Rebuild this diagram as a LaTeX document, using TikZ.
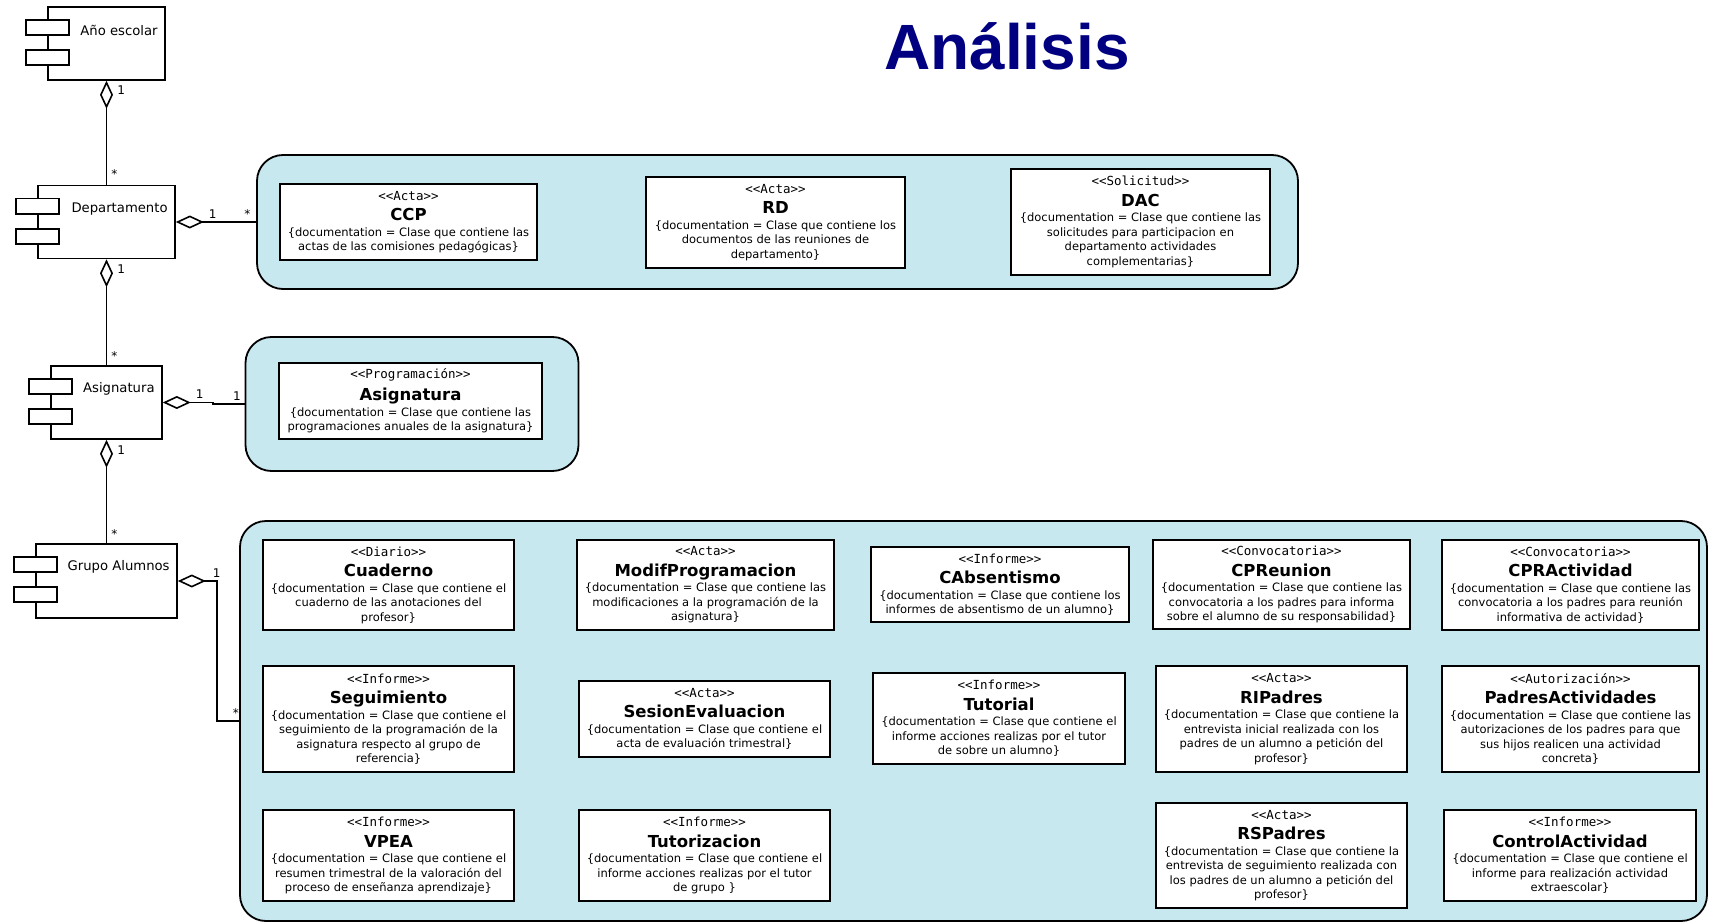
\documentclass[tikz,border=0pt]{standalone}
\usepackage{fontspec}
\setmainfont{DejaVu Sans}
\newfontfamily\monofam{DejaVu Sans Mono}
\newfontfamily\headfam{Liberation Sans}
\usepackage{tikz}
\usetikzlibrary{arrows.meta,positioning,calc}

\definecolor{pkgblue}{RGB}{200,232,240}
\definecolor{titleblue}{RGB}{0,0,128}

\newcommand{\stfont}{\monofam\fontsize{12.5}{14}\selectfont}
\newcommand{\nmfont}{\bfseries\fontsize{16.5}{19}\selectfont}
\newcommand{\docfont}{\fontsize{11.5}{14.5}\selectfont}
\newcommand{\umlclass}[3]{{\stfont #1}\\[6pt]{\nmfont #2}\\[1pt]#3}
\newcommand{\compicon}[1]{%
	\draw[line width=1.6pt, fill=white] ($(#1.north west)+(-21,14)$) rectangle ++(43,15);
	\draw[line width=1.6pt, fill=white] ($(#1.north west)+(-21,44)$) rectangle ++(43,15);}

\tikzset{
	comp/.style={draw, line width=1.6pt, fill=white, inner sep=0pt},
	complabel/.style={anchor=east, xshift=-8pt, yshift=-24pt, inner sep=0pt, font=\fontsize{13.2}{15}\selectfont},
	pkg/.style={draw, line width=1.8pt, fill=pkgblue, rounded corners=26pt, inner sep=0pt},
	cls/.style={draw, line width=1.6pt, fill=white, align=center, inner sep=2pt, font=\docfont},
	agg/.style={line width=1.7pt, {Diamond[open, length=28pt, width=13pt, line width=1.6pt]}-},
	mult/.style={inner sep=1pt, font=\fontsize{12}{14}\selectfont},
}

\begin{document}
\begin{tikzpicture}[x=1pt, y=-1pt]
	\useasboundingbox (0,0) rectangle (1709,923);
	\node[anchor=base, text=titleblue, font=\headfam\bfseries\fontsize{64}{70}\selectfont] (title) at (1007,70) {Análisis};

	\node[comp, minimum width=117pt, minimum height=73pt, label={[complabel]north east:Año escolar}] (anio) at (106.5,43.5) {};
	\node[comp, minimum width=137pt, minimum height=73pt, label={[complabel]north east:Departamento}] (dep) at (106.5,222) {};
	\node[comp, minimum width=111pt, minimum height=73pt, label={[complabel]north east:Asignatura}] (asig) at (106.5,402.5) {};
	\node[comp, minimum width=141pt, minimum height=74pt, label={[complabel]north east:Grupo Alumnos}] (grupo) at (106.5,581) {};
	\compicon{anio}
	\compicon{dep}
	\compicon{asig}
	\compicon{grupo}

	\node[pkg, minimum width=1041pt, minimum height=134pt] (pkgdep) at (777.5,222) {};
	\node[pkg, minimum width=333pt, minimum height=134pt] (pkgasig) at (412,404) {};
	\node[pkg, minimum width=1467pt, minimum height=400pt] (pkggrupo) at (973.5,721) {};

	\draw[agg] (anio.south) -- node[mult, pos=0.09, right=9pt] {1} node[mult, pos=0.9, right=3pt] {*} (dep.north);
	\draw[agg] (dep.south) -- node[mult, pos=0.09, right=9pt] {1} node[mult, pos=0.91, right=3pt] {*} (asig.north);
	\draw[agg] (asig.south) -- node[mult, pos=0.1, right=9pt] {1} node[mult, pos=0.91, right=3pt] {*} (grupo.north);
	\draw[agg] (dep.east) -- node[mult, pos=0.46, above=2pt] {1} node[mult, pos=0.89, above=2pt] {*} (pkgdep.west);
	\draw[agg] (asig.east) -- node[mult, pos=0.74, above=2pt] {1} ++(50,0) |- node[mult, pos=0.88, above=2pt] {1} (pkgasig.west);
	\draw[agg] (grupo.east) -- node[mult, pos=1, above=2pt] {1} ++(39,0) |- node[mult, pos=0.93, above=2pt] {*} (pkggrupo.west);

	\node[cls, minimum width=257pt, minimum height=76pt] (ccp) at (408.5,222) {\umlclass{<<Acta>>}{CCP}{\{documentation = Clase que contiene las\\actas de las comisiones pedagógicas\}}};
	\node[cls, minimum width=259pt, minimum height=91pt] (rd) at (775.5,222.5) {\umlclass{<<Acta>>}{RD}{\{documentation = Clase que contiene los\\documentos de las reuniones de\\departamento\}}};
	\node[cls, minimum width=259pt, minimum height=106pt] (dac) at (1140.5,222) {\umlclass{<<Solicitud>>}{DAC}{\{documentation = Clase que contiene las\\solicitudes para participacion en\\departamento actividades\\complementarias\}}};

	\node[cls, minimum width=263pt, minimum height=76pt] (prog) at (410.5,401) {\umlclass{<<Programación>>}{Asignatura}{\{documentation = Clase que contiene las\\programaciones anuales de la asignatura\}}};

	\node[cls, minimum width=251pt, minimum height=90pt] (cuaderno) at (388.5,585) {\umlclass{<<Diario>>}{Cuaderno}{\{documentation = Clase que contiene el\\cuaderno de las anotaciones del\\profesor\}}};
	\node[cls, minimum width=257pt, minimum height=90pt] (modif) at (705.5,585) {\umlclass{<<Acta>>}{ModifProgramacion}{\{documentation = Clase que contiene las\\modificaciones a la programación de la\\asignatura\}}};
	\node[cls, minimum width=258pt, minimum height=75pt] (cabs) at (1000,584.5) {\umlclass{<<Informe>>}{CAbsentismo}{\{documentation = Clase que contiene los\\informes de absentismo de un alumno\}}};
	\node[cls, minimum width=257pt, minimum height=89pt] (cpreunion) at (1281.5,584.5) {\umlclass{<<Convocatoria>>}{CPReunion}{\{documentation = Clase que contiene las\\convocatoria a los padres para informa\\sobre el alumno de su responsabilidad\}}};
	\node[cls, minimum width=257pt, minimum height=90pt] (cpract) at (1570.5,585) {\umlclass{<<Convocatoria>>}{CPRActividad}{\{documentation = Clase que contiene las\\convocatoria a los padres para reunión\\informativa de actividad\}}};

	\node[cls, minimum width=251pt, minimum height=106pt] (seguim) at (388.5,719) {\umlclass{<<Informe>>}{Seguimiento}{\{documentation = Clase que contiene el\\seguimiento de la programación de la\\asignatura respecto al grupo de\\referencia\}}};
	\node[cls, minimum width=251pt, minimum height=76pt] (sesion) at (704.5,719) {\umlclass{<<Acta>>}{SesionEvaluacion}{\{documentation = Clase que contiene el\\acta de evaluación trimestral\}}};
	\node[cls, minimum width=252pt, minimum height=91pt] (tutorial) at (999,718.5) {\umlclass{<<Informe>>}{Tutorial}{\{documentation = Clase que contiene el\\informe acciones realizas por el tutor\\de sobre un alumno\}}};
	\node[cls, minimum width=251pt, minimum height=106pt] (ripadres) at (1281.5,719) {\umlclass{<<Acta>>}{RIPadres}{\{documentation = Clase que contiene la\\entrevista inicial realizada con los\\padres de un alumno a petición del\\profesor\}}};
	\node[cls, minimum width=257pt, minimum height=106pt] (padresact) at (1570.5,719) {\umlclass{<<Autorización>>}{PadresActividades}{\{documentation = Clase que contiene las\\autorizaciones de los padres para que\\sus hijos realicen una actividad\\concreta\}}};

	\node[cls, minimum width=251pt, minimum height=91pt] (vpea) at (388.5,855.5) {\umlclass{<<Informe>>}{VPEA}{\{documentation = Clase que contiene el\\resumen trimestral de la valoración del\\proceso de enseñanza aprendizaje\}}};
	\node[cls, minimum width=251pt, minimum height=91pt] (tutoriz) at (704.5,855.5) {\umlclass{<<Informe>>}{Tutorizacion}{\{documentation = Clase que contiene el\\informe acciones realizas por el tutor\\de grupo \}}};
	\node[cls, minimum width=251pt, minimum height=105pt] (rspadres) at (1281.5,855.5) {\umlclass{<<Acta>>}{RSPadres}{\{documentation = Clase que contiene la\\entrevista de seguimiento realizada con\\los padres de un alumno a petición del\\profesor\}}};
	\node[cls, minimum width=252pt, minimum height=91pt] (controlact) at (1570,855.5) {\umlclass{<<Informe>>}{ControlActividad}{\{documentation = Clase que contiene el\\informe para realización actividad\\extraescolar\}}};
\end{tikzpicture}
\end{document}
